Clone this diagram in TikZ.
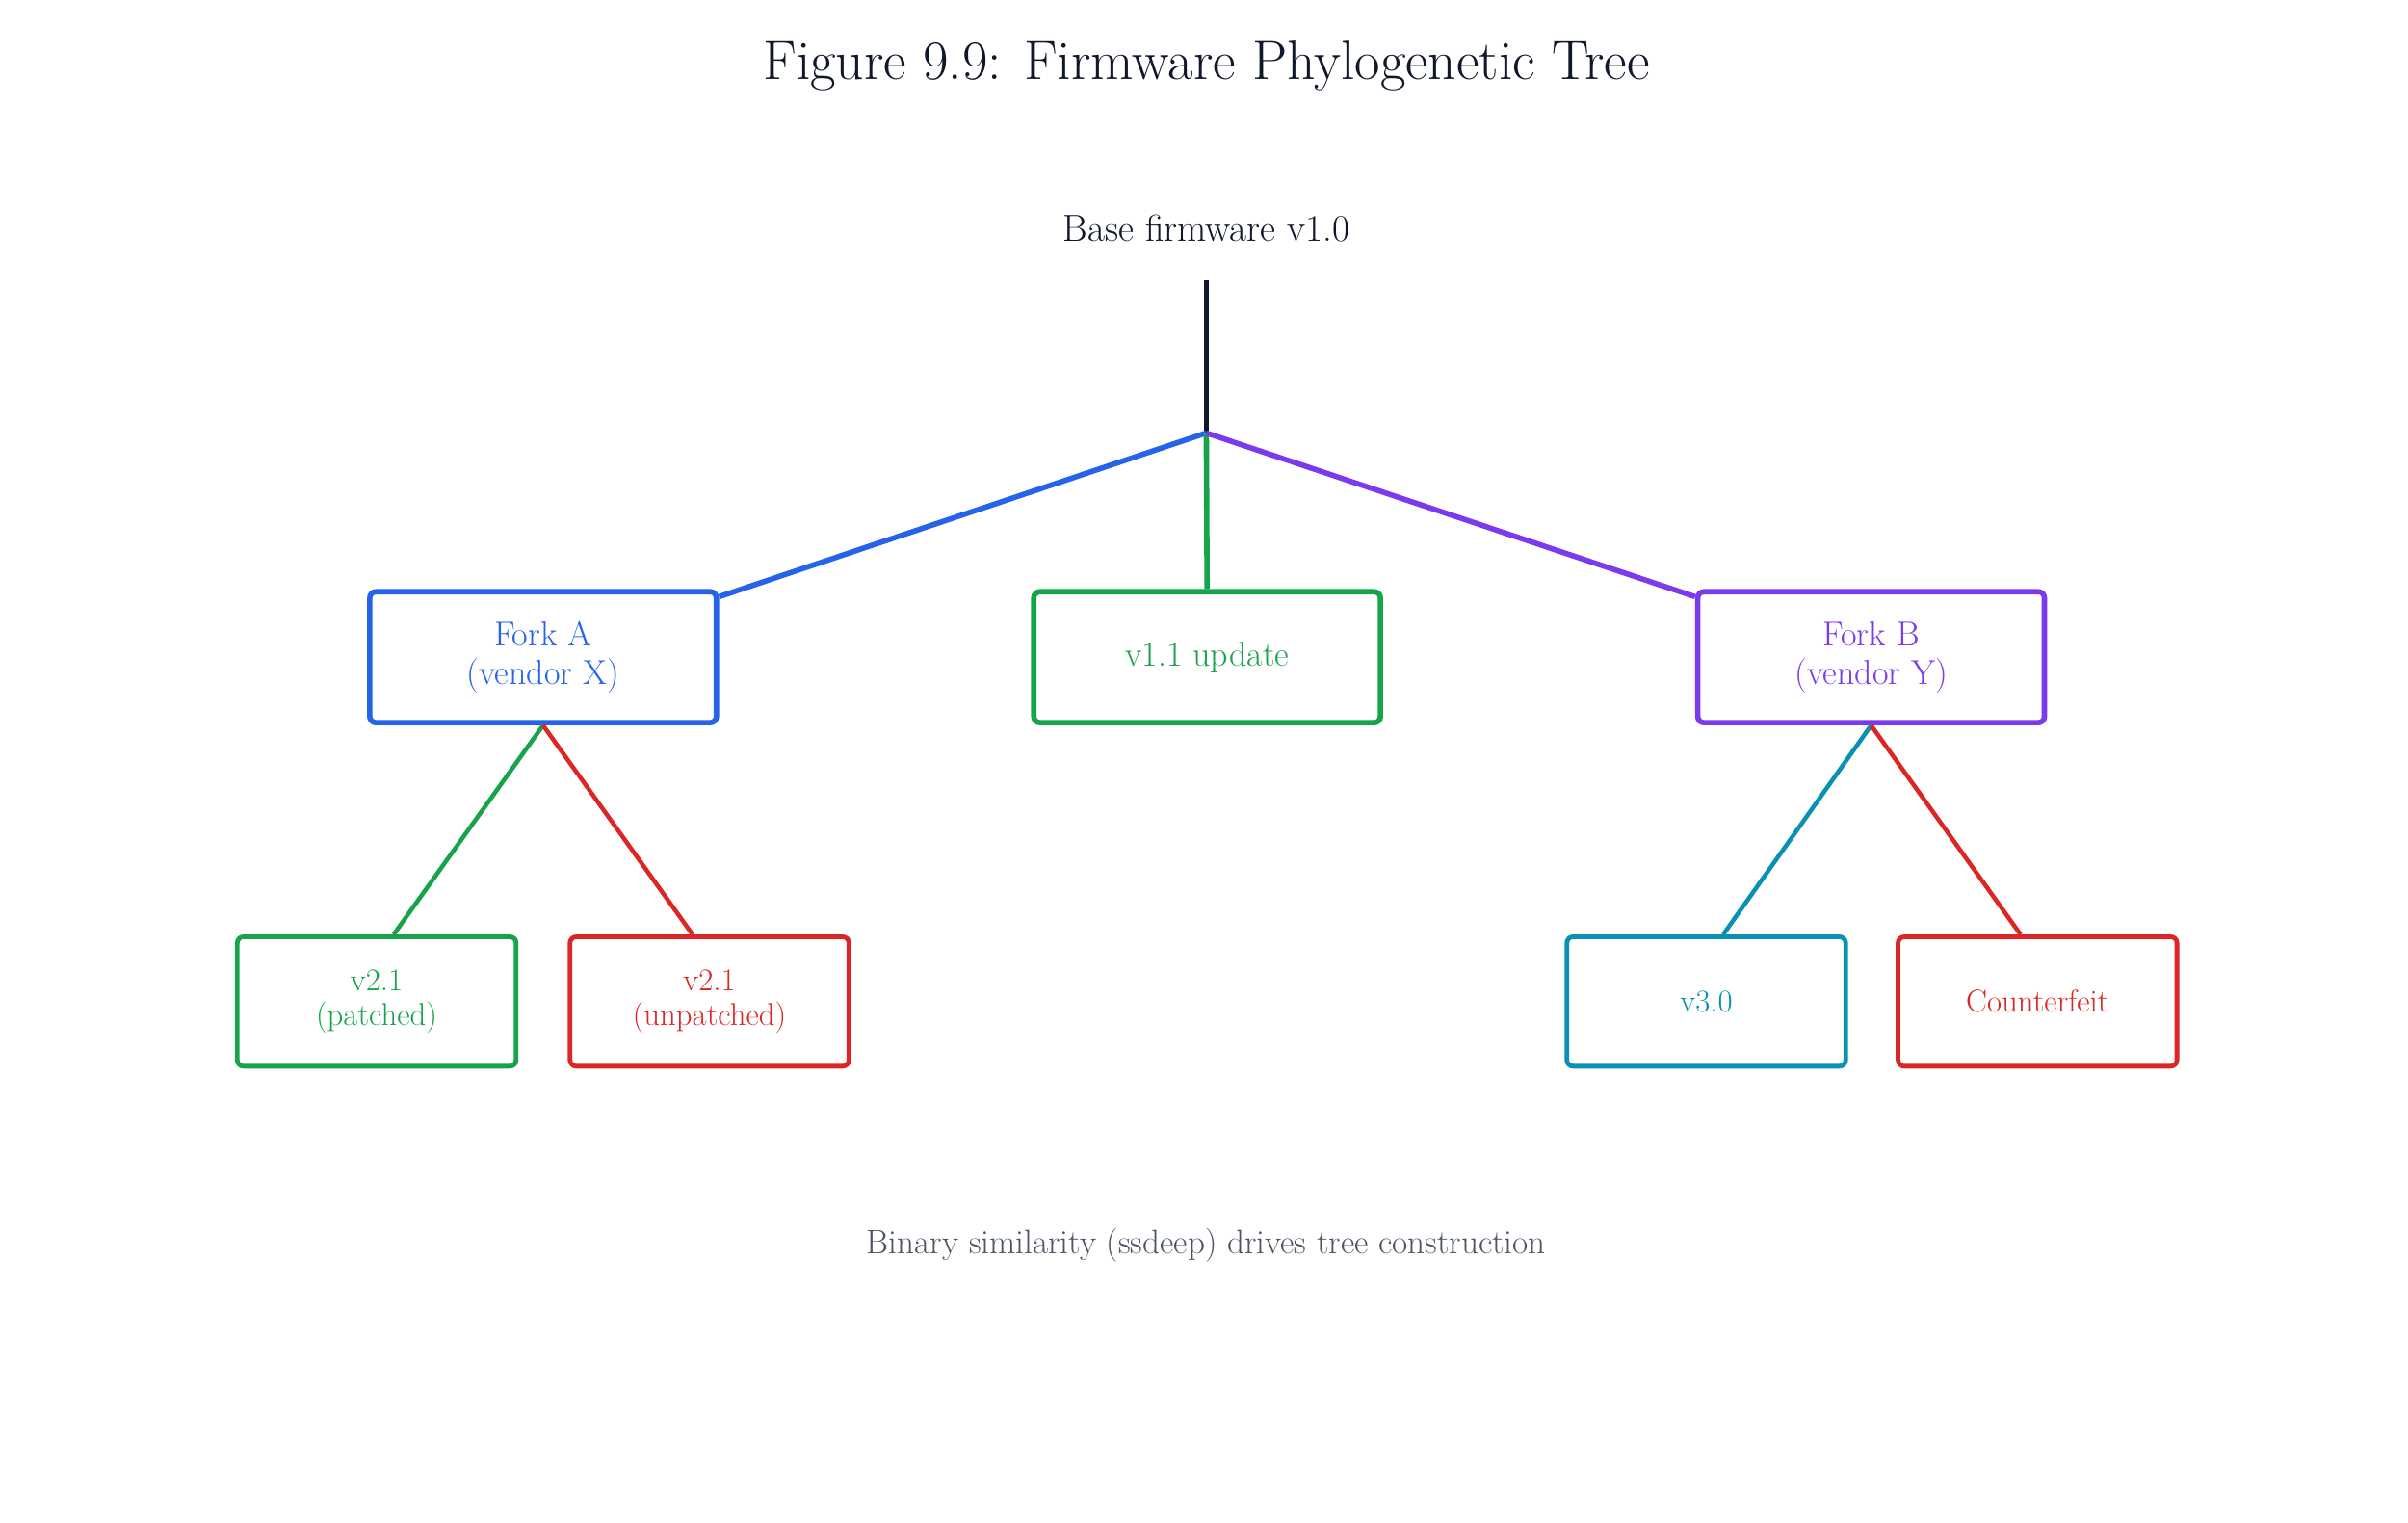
\documentclass[tikz,border=0pt]{standalone}
\begin{document}
\begin{tikzpicture}[x=1pt,y=-1pt,
  box/.style={draw,rounded corners=4pt,minimum width=225pt,minimum height=85pt,align=center,font=\fontsize{22.5}{25}\selectfont,line width=3.5pt},
  sbox/.style={draw,rounded corners=4pt,minimum width=181pt,minimum height=84pt,align=center,font=\fontsize{20.5}{22}\selectfont,line width=3pt},
  e1/.style={line width=3.5pt},e2/.style={line width=2.8pt}]
\definecolor{cb}{HTML}{2563EB}\definecolor{cg}{HTML}{16A34A}\definecolor{cp}{HTML}{7C3AED}
\definecolor{ct}{HTML}{0891B2}\definecolor{cr}{HTML}{DC2626}\definecolor{cd}{HTML}{0F172A}\definecolor{cgr}{HTML}{4B5563}
\useasboundingbox (0,0) rectangle (1563,988);
\node[text=cd,font=\fontsize{36}{38}\selectfont] (title) at (783,43) {Figure 9.9: Firmware Phylogenetic Tree};
\node[text=cd,font=\fontsize{24.5}{26}\selectfont] (base) at (783,148) {Base firmware v1.0};
\coordinate (top) at (783,182);
\coordinate (j) at (783,281);
\node[box,draw=cb,text=cb] (fa) at (352.5,426.5) {Fork A\\(vendor X)};
\node[box,draw=cg,text=cg] (up) at (783.5,426.5) {v1.1 update};
\node[box,draw=cp,text=cp] (fb) at (1214.5,426.5) {Fork B\\(vendor Y)};
\node[sbox,draw=cg,text=cg] (p) at (244.5,650) {v2.1\\(patched)};
\node[sbox,draw=cr,text=cr] (u) at (460.5,650) {v2.1\\(unpatched)};
\node[sbox,draw=ct,text=ct] (v3) at (1107.5,650) {v3.0};
\node[sbox,draw=cr,text=cr] (cf) at (1322.5,650) {Counterfeit};
\draw[e1,cd] (top) -- (j);
\draw[e1,cb] (j) -- ([yshift=-5pt]fa.north east);
\draw[e1,cg] (j) -- (up.north);
\draw[e1,cp] (j) -- ([yshift=-5pt]fb.north west);
\draw[e2,cg] (fa.south) -- ([xshift=11pt]p.north);
\draw[e2,cr] (fa.south) -- ([xshift=-11pt]u.north);
\draw[e2,ct] (fb.south) -- ([xshift=11pt]v3.north);
\draw[e2,cr] (fb.south) -- ([xshift=-11pt]cf.north);
\node[text=cgr,font=\fontsize{22}{24}\selectfont] (cap) at (783,808) {Binary similarity (ssdeep) drives tree construction};
\end{tikzpicture}
\end{document}
